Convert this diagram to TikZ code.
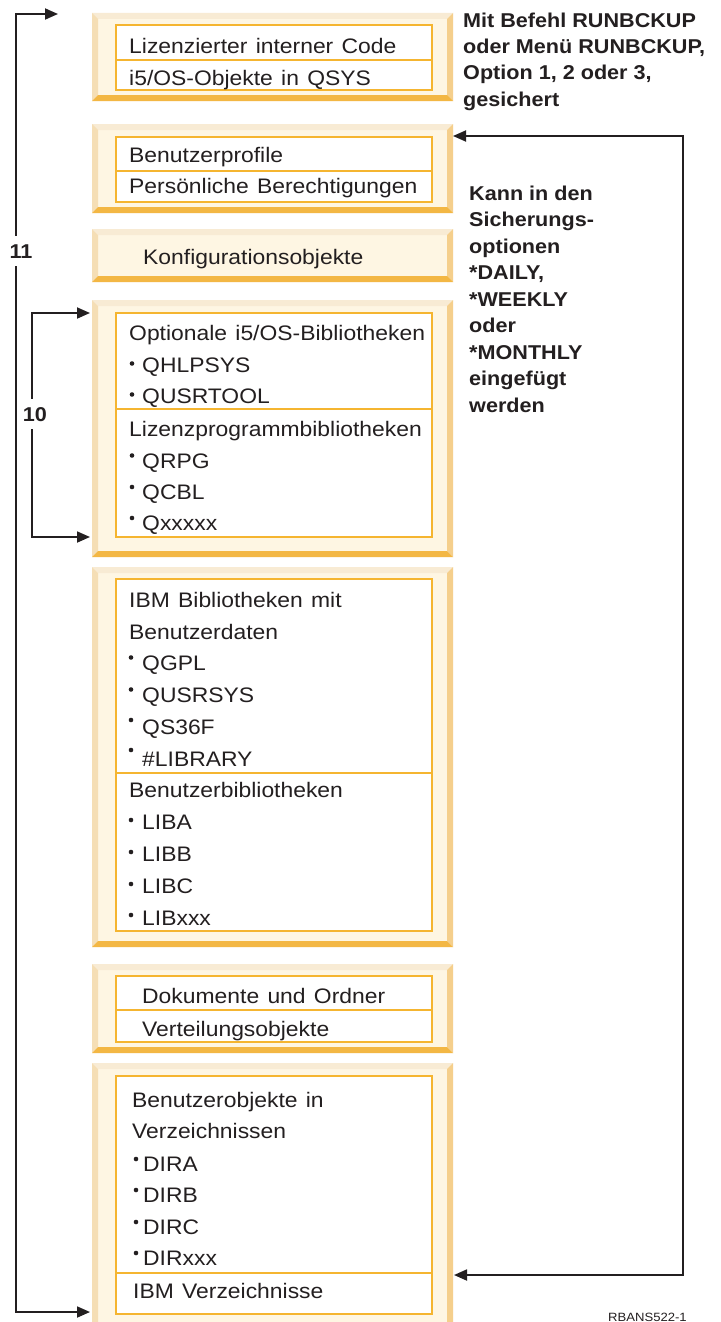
\documentclass[tikz,border=0pt]{standalone}
\usepackage{fontspec}
\setmainfont{Liberation Sans}[FakeStretch=1.09, WordSpace=1.3]
\newfontfamily\notefont{Liberation Sans}[FakeStretch=1.08]
\usetikzlibrary{arrows.meta,fit}

\definecolor{ink}{HTML}{231F20}
\definecolor{cream}{HTML}{FEF6E3}
\definecolor{bevtop}{HTML}{F8EBD4}
\definecolor{bevleft}{HTML}{F5DEB5}
\definecolor{bevright}{HTML}{F5CF8C}
\definecolor{bevbottom}{HTML}{F3B744}
\definecolor{rim}{HTML}{F5B530}

\tikzset{
  panel/.style={rectangle, inner sep=0pt, outer sep=0pt, fill=cream,
    path picture={
      \fill[bevtop] (path picture bounding box.north west) -- (path picture bounding box.north east)
        -- ([shift={(-6pt,-6pt)}]path picture bounding box.north east)
        -- ([shift={(6pt,-6pt)}]path picture bounding box.north west) -- cycle;
      \fill[bevleft] (path picture bounding box.north west) -- ([shift={(6pt,-6pt)}]path picture bounding box.north west)
        -- ([shift={(6pt,6pt)}]path picture bounding box.south west)
        -- (path picture bounding box.south west) -- cycle;
      \fill[bevright] (path picture bounding box.north east) -- ([shift={(-6pt,-6pt)}]path picture bounding box.north east)
        -- ([shift={(-6pt,6pt)}]path picture bounding box.south east)
        -- (path picture bounding box.south east) -- cycle;
      \fill[bevbottom] (path picture bounding box.south west) -- (path picture bounding box.south east)
        -- ([shift={(-6pt,6pt)}]path picture bounding box.south east)
        -- ([shift={(6pt,6pt)}]path picture bounding box.south west) -- cycle;
    }},
  listbox/.style={rectangle, inner sep=0pt, outer sep=0pt, fill=white, draw=rim, line width=2pt},
  rimline/.style={draw=rim, line width=2pt},
  txt/.style={inner sep=0pt, anchor=base west, text=ink, font=\fontsize{21pt}{25pt}\selectfont},
  note/.style={inner sep=0pt, anchor=base west, text=ink, font=\fontsize{20pt}{24pt}\notefont\bfseries},
  tag/.style={inner ysep=8pt, inner xsep=1pt, anchor=base, fill=white, text=ink, font=\fontsize{20pt}{24pt}\notefont\bfseries},
  dot/.style={fill=ink},
  conn/.style={draw=ink, line width=1.8pt,
    arrows={Triangle[length=13pt,width=11pt]-Triangle[length=13pt,width=11pt]}},
}

\begin{document}
\begin{tikzpicture}[x=1pt,y=-1pt]
\fill[white] (0,0) rectangle (720,1322);
\useasboundingbox (0,0) rectangle (720,1322);

% outer bevelled panels
\node[panel, fit={(92,13)(453,101)}] (p1) {};
\node[panel, fit={(92,124)(453,213)}] (p2) {};
\node[panel, fit={(92,229)(453,282)}] (p3) {};
\node[panel, fit={(92,300)(453,557)}] (p4) {};
\node[panel, fit={(92,567)(453,947)}] (p5) {};
\node[panel, fit={(92,964)(453,1053)}] (p6) {};
\node[panel, fit={(92,1063)(453,1330)}] (p7) {};

% white list boxes with their dividers
\node[listbox, fit={(116,25)(432,90)}] (i1) {};
\draw[rimline] (116,60) -- (432,60);
\node[listbox, fit={(116,137)(432,202)}] (i2) {};
\draw[rimline] (116,171) -- (432,171);
\node[listbox, fit={(116,313)(432,537)}] (i4) {};
\draw[rimline] (116,409) -- (432,409);
\node[listbox, fit={(116,579)(432,931)}] (i5) {};
\draw[rimline] (116,773) -- (432,773);
\node[listbox, fit={(116,976)(432,1042)}] (i6) {};
\draw[rimline] (116,1010) -- (432,1010);
\node[listbox, fit={(116,1076)(432,1314)}] (i7) {};
\draw[rimline] (116,1273) -- (432,1273);

% panel 1
\node[txt] (t1a) at (129,53) {Lizenzierter interner Code};
\node[txt] (t1b) at (129,85) {i5/OS-Objekte in QSYS};
% panel 2
\node[txt] (t2a) at (129,162) {Benutzerprofile};
\node[txt] (t2b) at (129,193) {Persönliche Berechtigungen};
% panel 3
\node[txt] (t3a) at (143,264) {Konfigurationsobjekte};
% panel 4
\node[txt] (t4a) at (129,340) {Optionale i5/OS-Bibliotheken};
\node[txt] (t4b) at (142,372) {QHLPSYS};
\node[txt] (t4c) at (142,403) {QUSRTOOL};
\node[txt] (t4d) at (129,436) {Lizenzprogrammbibliotheken};
\node[txt] (t4e) at (142,468) {QRPG};
\node[txt] (t4f) at (142,499) {QCBL};
\node[txt] (t4g) at (142,530) {Qxxxxx};
\fill[dot] (132,363.5) circle (2.3pt);
\fill[dot] (132,394.5) circle (2.3pt);
\fill[dot] (132,455.5) circle (2.3pt);
\fill[dot] (132,487) circle (2.3pt);
\fill[dot] (132,518) circle (2.3pt);
% panel 5
\node[txt] (t5a) at (129,607) {IBM Bibliotheken mit};
\node[txt] (t5b) at (129,639) {Benutzerdaten};
\node[txt] (t5c) at (142,670) {QGPL};
\node[txt] (t5d) at (142,702) {QUSRSYS};
\node[txt] (t5e) at (142,734) {QS36F};
\node[txt] (t5f) at (142,766) {\#LIBRARY};
\node[txt] (t5g) at (129,797) {Benutzerbibliotheken};
\node[txt] (t5h) at (142,829) {LIBA};
\node[txt] (t5i) at (142,861) {LIBB};
\node[txt] (t5j) at (142,893) {LIBC};
\node[txt] (t5k) at (142,925) {LIBxxx};
\fill[dot] (131,657.5) circle (2.3pt);
\fill[dot] (131,689.5) circle (2.3pt);
\fill[dot] (131,720) circle (2.3pt);
\fill[dot] (131,750) circle (2.3pt);
\fill[dot] (131,820) circle (2.3pt);
\fill[dot] (131,852) circle (2.3pt);
\fill[dot] (131,884) circle (2.3pt);
\fill[dot] (131,915) circle (2.3pt);
% panel 6
\node[txt] (t6a) at (142,1003) {Dokumente und Ordner};
\node[txt] (t6b) at (142,1036) {Verteilungsobjekte};
% panel 7
\node[txt] (t7a) at (132,1107) {Benutzerobjekte in};
\node[txt] (t7b) at (132,1138) {Verzeichnissen};
\node[txt] (t7c) at (143,1171) {DIRA};
\node[txt] (t7d) at (143,1202) {DIRB};
\node[txt] (t7e) at (143,1234) {DIRC};
\node[txt] (t7f) at (143,1265) {DIRxxx};
\node[txt] (t7g) at (133,1298) {IBM Verzeichnisse};
\fill[dot] (136,1159) circle (2.3pt);
\fill[dot] (136,1190) circle (2.3pt);
\fill[dot] (136,1222) circle (2.3pt);
\fill[dot] (136,1253) circle (2.3pt);

% notes on the right
\foreach \s [count=\i] in {Mit Befehl RUNBCKUP, {oder Menü RUNBCKUP,}, {Option 1, 2 oder 3,}, gesichert}
  \node[note] (na\i) at (463,{28+26*(\i-1)}) {\s};
\foreach \s [count=\i] in {Kann in den, Sicherungs-, optionen, {*DAILY,}, *WEEKLY, oder, *MONTHLY, eingefügt, werden}
  \node[note] (nb\i) at (469,{200+26.5*(\i-1)}) {\s};

% bracket connectors
\coordinate (a11t) at (58,14);
\coordinate (a11m) at (16,600);
\coordinate (a11b) at (90,1312);
\draw[conn] (a11t) -| (a11m) |- (a11b);
\node[tag] (l11) at (21,258) {11};

\coordinate (a10t) at (90,313);
\coordinate (a10m) at (32,420);
\coordinate (a10b) at (90,537);
\draw[conn] (a10t) -| (a10m) |- (a10b);
\node[tag] (l10) at (35,421) {10};

\coordinate (art) at (453,136);
\coordinate (arm) at (683,700);
\coordinate (arb) at (454,1275);
\draw[conn] (art) -| (arm) |- (arb);

% figure code
\node[inner sep=0pt, anchor=base west, text=ink, font=\fontsize{12pt}{14pt}\selectfont] (code) at (608,1321) {RBANS522-1};
\end{tikzpicture}
\end{document}
